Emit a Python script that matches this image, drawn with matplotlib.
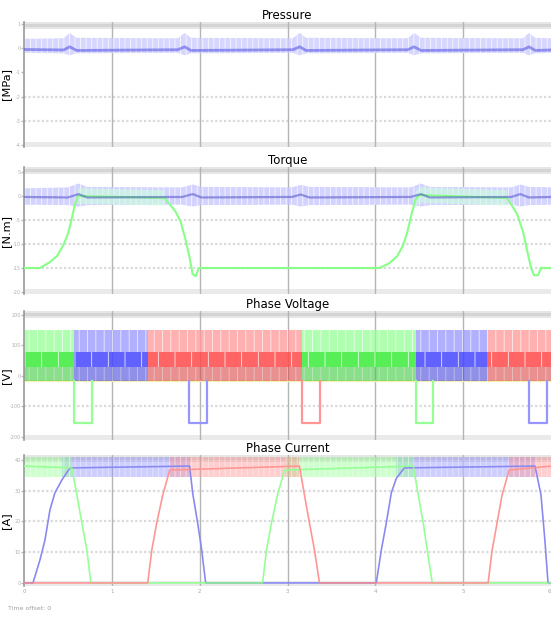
import numpy as np
import matplotlib
matplotlib.use('Agg')
import matplotlib.pyplot as plt
from matplotlib.patches import Rectangle

plt.rcParams['font.family'] = ['DejaVu Sans']
plt.rcParams['hatch.linewidth'] = 0.6

# ---------------- data (time in scope divisions) ----------------
time_ticks = [0, 1, 2, 3, 4, 5, 6]

# Pressure [MPa] noisy band
press_t = [0, 0.45, 0.52, 0.60, 1.75, 1.83, 1.90, 3.06, 3.14, 3.21, 4.37, 4.44, 4.52, 5.68, 5.75, 5.82, 6.0]
press_hi = [0.38, 0.40, 0.62, 0.42, 0.40, 0.62, 0.42, 0.40, 0.62, 0.42, 0.40, 0.62, 0.42, 0.40, 0.62, 0.42, 0.40]
press_lo = [-0.20, -0.22, -0.30, -0.22, -0.20, -0.30, -0.22, -0.20, -0.30, -0.22, -0.20, -0.30, -0.22, -0.20, -0.30, -0.22, -0.20]
press_mid = [-0.06, -0.08, 0.05, -0.10, -0.07, 0.05, -0.10, -0.07, 0.05, -0.10, -0.07, 0.05, -0.10, -0.07, 0.05, -0.10, -0.08]
press_ticks = [1, 0, -1, -2, -3, -4]

# Torque [N.m]
tq_blue_t = [0, 0.50, 0.62, 0.72, 1.80, 1.92, 2.02, 3.05, 3.15, 3.25, 4.40, 4.52, 4.62, 5.55, 5.65, 5.75, 6.0]
tq_blue_hi = [1.6, 1.8, 2.6, 1.9, 1.8, 2.4, 1.9, 1.8, 2.3, 1.9, 1.8, 2.6, 1.9, 1.8, 2.4, 1.9, 1.8]
tq_blue_lo = [-1.8, -1.9, -2.2, -1.9, -1.8, -2.2, -1.9, -1.8, -2.2, -1.9, -1.8, -2.2, -1.9, -1.8, -2.2, -1.9, -1.8]
tq_blue_mid = [-0.2, -0.3, 0.4, -0.3, -0.2, 0.4, -0.3, -0.2, 0.3, -0.3, -0.2, 0.4, -0.3, -0.2, 0.4, -0.3, -0.2]
tq_green_t = [0, 0.182, 0.295, 0.375, 0.443, 0.50, 0.545, 0.58, 0.614, 1.602, 1.659, 1.727, 1.784,
              1.841, 1.886, 1.92, 1.955, 1.989, 4.045, 4.159, 4.25, 4.318, 4.364, 4.409, 4.455,
              4.50, 5.50, 5.545, 5.614, 5.682, 5.727, 5.773, 5.807, 5.852, 5.886, 6.0]
tq_green = [-15, -15, -13.75, -12.5, -10.4, -7.9, -4.6, -1.7, 0, -0.4, -1.7, -3.3, -5.4,
            -9.2, -12.9, -16.25, -16.7, -15, -15, -14, -12.5, -10.2, -7.5, -4, -0.8,
            0.2, -0.4, -1.7, -3.75, -7.5, -11.25, -15, -16.5, -16.5, -15, -15]
tq_ticks = [5, 0, -5, -10, -15, -20]

# Phase voltage [V]
seg_bounds = [0, 0.568, 1.409, 3.170, 4.466, 5.273, 6.0]
seg_phase = ['g', 'b', 'r', 'g', 'b', 'r']
pwm_levels = [151, 79, 30, -16]
pulse_start = [0.568, 1.875, 3.170, 4.466, 5.750]
pulse_end = [0.773, 2.080, 3.375, 4.659, 5.955]
pulse_phase = ['g', 'b', 'r', 'g', 'b']
pulse_low = -154
volt_ticks = [200, 100, 0, -100, -200]

# Phase current [A]
ia_t = [0, 0.102, 0.182, 0.239, 0.295, 0.352, 0.432, 0.523, 1.886, 1.92, 1.977, 2.023, 2.068,
        4.011, 4.068, 4.125, 4.182, 4.239, 4.33, 5.818, 5.886, 5.93, 5.966, 6.0]
ia = [0, 0, 7.5, 14, 23.7, 29.3, 33.5, 37.4, 38, 29.3, 19.5, 10.7, 0,
      0, 10.7, 19.5, 29.3, 34, 37.4, 38, 28.6, 14, 0, 0]
ig_t = [0, 0.545, 0.602, 0.659, 0.716, 0.761, 2.716, 2.761, 2.818, 2.886, 2.966, 4.432,
        4.489, 4.545, 4.591, 4.648, 6.0]
ig = [38, 37.4, 28.6, 19.5, 10.7, 0, 0, 10.7, 19.5, 28.6, 36.7, 38, 28.6, 19.5, 10.7, 0, 0]
ir_t = [0, 1.409, 1.455, 1.511, 1.58, 1.659, 3.136, 3.193, 3.25, 3.307, 3.364, 5.284,
        5.33, 5.386, 5.443, 5.523, 6.0]
ir = [0, 0, 10.7, 19.5, 28.6, 36.7, 38, 28.6, 19.5, 10.7, 0, 0, 10.7, 19.5, 28.6, 36.7, 38]
cur_ticks = [40, 30, 20, 10, 0]

# ---------------- styling ----------------
COL_LIGHT = {'r': '#ff9696', 'g': '#96ff96', 'b': '#9696ff'}
COL_STRONG = {'r': '#ff4a4a', 'g': '#3aeb3a', 'b': '#4646ff'}

W, H = 551, 617
fig = plt.figure(figsize=(W / 100, H / 100), dpi=100)


def make_axes(top, bottom, ylim, yticks, title, ylabel, hgrid):
    ax = fig.add_axes([24 / W, 1 - bottom / H, (W - 24) / W, (bottom - top) / H])
    ax.set_xlim(0, 5.99)
    ax.set_ylim(*ylim)
    for s in ['top', 'right', 'bottom']:
        ax.spines[s].set_visible(False)
    ax.spines['left'].set_color('#9a9a9a')
    ax.spines['left'].set_linewidth(1.2)
    ax.set_yticks(yticks)
    ax.set_yticklabels([str(v) for v in yticks])
    ax.tick_params(axis='y', length=2, width=1, color='#b8b8b8', pad=0.5,
                   labelsize=3.5, labelcolor='#b0b0b0')
    ax.set_xticks(time_ticks)
    ax.tick_params(axis='x', length=0, labelbottom=False)
    for t in time_ticks[1:-1]:
        ax.axvline(t, color='#b4b4b4', lw=1.0, zorder=0.5)
    for v in hgrid:
        ax.axhline(v, color='#dadada', lw=1.6, ls=(0, (1, 1)), zorder=0.4)
    # grey bands at the top and bottom edges
    ax.add_patch(Rectangle((0, 0.945), 1, 0.055, transform=ax.transAxes,
                           facecolor='#e6e6e6', edgecolor='none', zorder=0.3))
    ax.add_patch(Rectangle((0, 0.962), 1, 0.02, transform=ax.transAxes,
                           facecolor='#d4d4d4', edgecolor='none', zorder=0.31))
    ax.add_patch(Rectangle((0, 0.0), 1, 0.04, transform=ax.transAxes,
                           facecolor='#eaeaea', edgecolor='none', zorder=0.3))
    ax.set_title(title, fontsize=8.5, pad=2)
    ax.set_ylabel(ylabel, fontsize=8.2, va='center')
    ax.yaxis.set_label_coords(-17.5 / 527, 0.5)
    return ax


# ---- Pressure ----
ax1 = make_axes(22, 147, (-4.07, 1.07), press_ticks, 'Pressure', '[MPa]', [-2, -3])
ax1.fill_between(press_t, press_lo, press_hi, facecolor='#ccccff', edgecolor='white',
                 hatch='|||', linewidth=0, alpha=0.8, zorder=2)
ax1.plot(press_t, press_mid, color='#5050e0', lw=2.0, alpha=0.55, zorder=3)

# ---- Torque ----
ax2 = make_axes(167, 294, (-20.4, 6.04), tq_ticks, 'Torque', '[N.m]', [-5, -10, -15])
ax2.fill_between(tq_blue_t, tq_blue_lo, tq_blue_hi, facecolor='#c8c8ff', edgecolor='white',
                 hatch='|||', linewidth=0, alpha=0.8, zorder=2)
tg = np.array(tq_green_t)
gg = np.array(tq_green)
near_top = gg > -1.0
ax2.fill_between(tg, gg - 1.6, gg + 1.6, where=near_top, facecolor='#ccffdc',
                 edgecolor='none', alpha=0.6, zorder=2.1)
ax2.plot(tq_green_t, tq_green, color='#88ff88', lw=1.5, zorder=3)
ax2.plot(tq_blue_t, tq_blue_mid, color='#5050c8', lw=1.6, alpha=0.55, zorder=3.1)

# ---- Phase Voltage ----
ax3 = make_axes(311, 440, (-210, 213), volt_ticks, 'Phase Voltage', '[V]', [-100])
for i, ph in enumerate(seg_phase):
    xs = [seg_bounds[i], seg_bounds[i + 1]]
    ax3.fill_between(xs, pwm_levels[1], pwm_levels[0], facecolor=COL_LIGHT[ph],
                     edgecolor='white', hatch='||', linewidth=0, alpha=0.75, zorder=2)
    ax3.fill_between(xs, pwm_levels[2], pwm_levels[1], facecolor=COL_STRONG[ph],
                     edgecolor='white', hatch='|', linewidth=0, alpha=0.85, zorder=2)
    ax3.fill_between(xs, pwm_levels[3], pwm_levels[2], facecolor=COL_STRONG[ph],
                     edgecolor='#ffffff', hatch='||', linewidth=0, alpha=0.55, zorder=2)
    ax3.fill_between(xs, pwm_levels[3], pwm_levels[2], facecolor='#505050',
                     edgecolor='none', alpha=0.12, zorder=2.1)
ax3.axhline(pwm_levels[3], color='#f4f0b0', lw=1.5, zorder=1.9)
for s, e, ph in zip(pulse_start, pulse_end, pulse_phase):
    ax3.plot([s, s, e, e], [pwm_levels[3], pulse_low, pulse_low, pwm_levels[3]],
             color=COL_LIGHT[ph], lw=1.6, zorder=3)

# ---- Phase Current ----
ax4 = make_axes(455, 586, (-1.0, 41.6), cur_ticks, 'Phase Current', '[A]', [10, 20, 30])
for tt, yy, ph in [(ia_t, ia, 'b'), (ig_t, ig, 'g'), (ir_t, ir, 'r')]:
    ta = np.array(tt)
    ya = np.array(yy)
    hi = ya > 33
    ax4.fill_between(ta, 34.5, 40.8, where=hi, facecolor=COL_LIGHT[ph], edgecolor='white',
                     hatch='|||', linewidth=0, alpha=0.45, zorder=2)
    ax4.plot(ta, ya, color=COL_LIGHT[ph], lw=1.2, zorder=3)
ax4.plot(ia_t, ia, color='#5050a0', lw=0.8, alpha=0.2, zorder=3.2)
ax4.set_xticklabels([str(v) for v in time_ticks])
ax4.tick_params(axis='x', labelbottom=True, labelsize=4.0, labelcolor='#a8a8a8', pad=2)
ax4.get_xticklabels()[-1].set_horizontalalignment('right')

fig.text(8 / W, 1 - 609 / H, 'Time offset: 0', fontsize=4.5, color='#a0a0a0', va='center')

fig.savefig('out.png', dpi=100)
